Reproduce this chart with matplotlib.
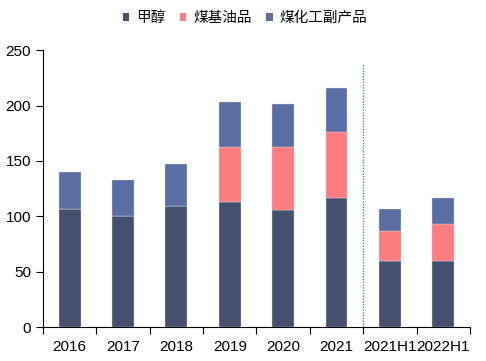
import matplotlib
matplotlib.use("Agg")
import matplotlib.pyplot as plt
from matplotlib.patches import Patch
import numpy as np

categories = ["2016", "2017", "2018", "2019", "2020", "2021", "2021H1", "2022H1"]
methanol = [107, 100, 109, 112.5, 106, 116.5, 59.5, 59.5]
coal_oil = [0, 0, 0, 50, 57, 59.5, 27, 34]
byproducts = [33, 33, 38, 40.5, 38, 40, 20, 23]
series_names = ["甲醇", "煤基油品", "煤化工副产品"]
colors = ["#44506E", "#FF7C80", "#5A6EA3"]

plt.rcParams['font.family'] = ['Liberation Sans', 'Noto Sans CJK SC', 'DejaVu Sans']

fig = plt.figure(figsize=(4.86, 3.61), dpi=100)
ax = fig.add_axes([0.0885, 0.094, 0.8785, 0.767])

x = np.arange(len(categories))
w = 0.41
b1 = np.array(methanol)
b2 = b1 + np.array(coal_oil)
ax.bar(x, methanol, w, color=colors[0], edgecolor="#D0D4DE", linewidth=0.3)
ax.bar(x, coal_oil, w, bottom=b1, color=colors[1], edgecolor="#D0D4DE", linewidth=0.3)
ax.bar(x, byproducts, w, bottom=b2, color=colors[2], edgecolor="#D0D4DE", linewidth=0.3)

ax.set_xlim(-0.5, len(categories) - 0.5)
ax.set_ylim(0, 250)
ax.set_yticks(range(0, 251, 50))
ax.set_xticks(x)
ax.set_xticklabels(categories)
ax.set_xticks(np.arange(-0.5, len(categories), 1), minor=True)
ax.tick_params(axis='x', which='major', length=0, labelsize=11, pad=9)
ax.tick_params(axis='x', which='minor', length=5, width=0.8, direction='out')
ax.tick_params(axis='y', labelsize=11, length=5, width=0.8, direction='out')
for s in ["top", "right"]:
    ax.spines[s].set_visible(False)
for s in ["left", "bottom"]:
    ax.spines[s].set_linewidth(0.8)
    ax.spines[s].set_color("black")

ax.axvline(5.5, ymin=0, ymax=0.955, color="#5A7FB0", linestyle=(0, (1, 1)), linewidth=1.0)

handles = [Patch(facecolor=c, edgecolor='none') for c in colors]
fig.legend(handles, series_names, loc="center", bbox_to_anchor=(0.504, 0.95), ncol=3,
           frameon=False, fontsize=10.5, handlelength=0.45, handleheight=0.45,
           handletextpad=0.45, columnspacing=1.0)

fig.savefig("out.png", dpi=100)
